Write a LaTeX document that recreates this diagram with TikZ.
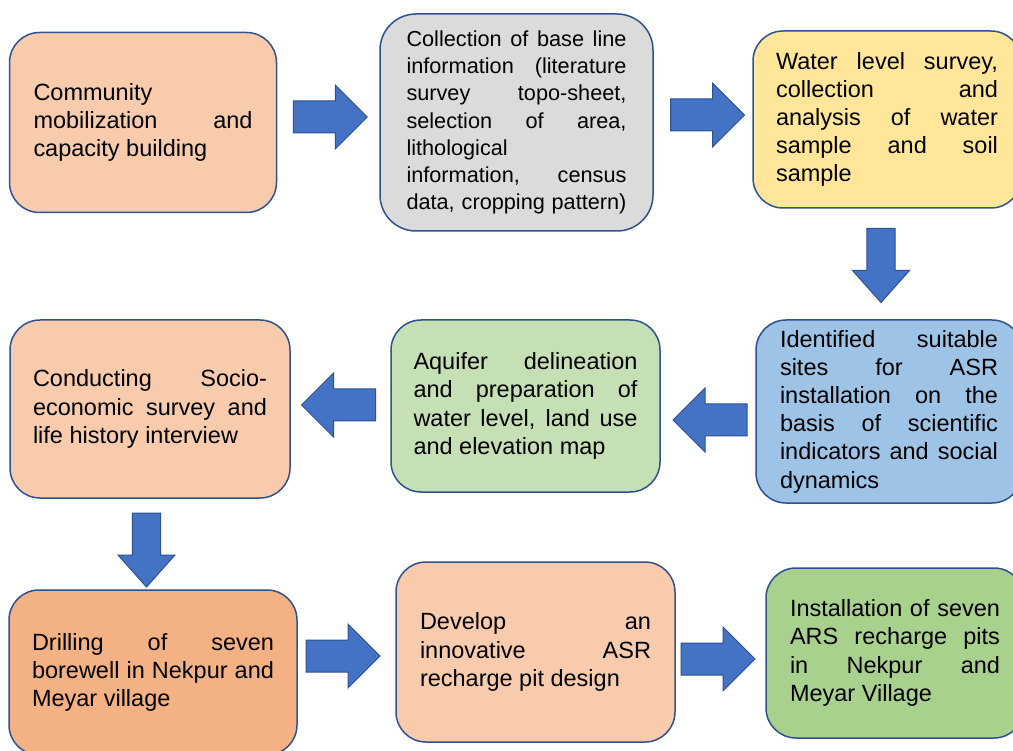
\documentclass[tikz,border=0pt]{standalone}
\usepackage{fontspec}
\setmainfont{Liberation Sans}
\usetikzlibrary{calc}
\definecolor{bordc}{RGB}{47,82,143}
\definecolor{arrc}{RGB}{68,114,196}
\definecolor{cpeach}{HTML}{F8CBAD}
\definecolor{cgray}{HTML}{DBDBDB}
\definecolor{cyellow}{HTML}{FFE699}
\definecolor{cblue}{HTML}{9DC3E6}
\definecolor{cgreen}{HTML}{C5E0B4}
\definecolor{corange}{HTML}{F4B183}
\definecolor{cgreenb}{HTML}{A9D18E}
\newcommand\jwidth{100pt}
\newcommand\J[1]{\leavevmode\hbox to\jwidth{\spaceskip=.278em plus 1fil\relax #1}}
\newcommand\Rl[1]{\leavevmode\hbox{\spaceskip=.278em\relax #1}}
\begin{document}
\begin{tikzpicture}[x=1pt,y=-1pt,
  box/.style={draw=bordc, line width=1.5pt, rounded corners=30pt, inner sep=0pt,
    align=left, font=\fontsize{23.5}{28.2}\selectfont},
  jw/.style={text width=#1, execute at begin node={\def\jwidth{#1}}},
  barrow/.pic={\filldraw[fill=arrc, draw=bordc, line width=1pt]
    (-37,-16) -- (5,-16) -- (5,-32) -- (37,0) -- (5,32) -- (5,16) -- (-37,16) -- cycle;}
]
\clip (0,0) rectangle (1013,751);
\fill[white] (0,0) rectangle (1013,751);

\node[box, fill=cpeach, minimum width=267pt, minimum height=180pt, jw=219pt] (b1) at (143,122.5)
  {Community\\ \J{mobilization and}\\ \Rl{capacity building}};
\node[box, fill=cgray, rounded corners=36pt, minimum width=273pt, minimum height=217pt, jw=220pt,
  font=\fontsize{21.7}{27.2}\selectfont] (b2) at (516.5,122.5)
  {\J{Collection of base line}\\ \J{information (literature}\\ \J{survey topo-sheet,}\\ \J{selection of area,}\\ lithological\\ \J{information, census}\\ \J{data, cropping pattern)}};
\node[box, fill=cyellow, minimum width=268pt, minimum height=177pt, jw=222pt] (b3) at (887,119.5)
  {\J{Water level survey,}\\ \J{collection and}\\ \J{analysis of water}\\ \J{sample and soil}\\ sample};
\node[box, fill=cblue, minimum width=266pt, minimum height=183pt, jw=218pt] (b4) at (889,411.5)
  {\J{Identified suitable}\\ \J{sites for ASR}\\ \J{installation on the}\\ \J{basis of scientific}\\ \J{indicators and social}\\ dynamics};
\node[box, fill=cgreen, minimum width=269pt, minimum height=172pt, jw=224pt] (b5) at (525.5,406)
  {\J{Aquifer delineation}\\ \J{and preparation of}\\ \J{water level, land use}\\ \Rl{and elevation map}};
\node[box, fill=cpeach, minimum width=280pt, minimum height=178pt, jw=234pt] (b6) at (150,409)
  {\J{Conducting Socio-}\\ \J{economic survey and}\\ \Rl{life history interview}};
\node[box, fill=corange, minimum width=288pt, minimum height=165pt, jw=242pt] (b7) at (153,672.5)
  {\J{Drilling of seven}\\ \J{borewell in Nekpur and}\\ \Rl{Meyar village}};
\node[box, fill=cpeach, minimum width=279pt, minimum height=180pt, jw=231pt] (b8) at (535.5,652)
  {\J{Develop an}\\ \J{innovative ASR}\\ \Rl{recharge pit design}};
\node[box, fill=cgreenb, minimum width=258pt, minimum height=170pt, jw=210pt] (b9) at (895,653)
  {\J{Installation of seven}\\ \J{ARS recharge pits}\\ \J{in Nekpur and}\\ \Rl{Meyar Village}};

\pic at ($(b1.east)!.5!(b2.west)+(2,-5.5)$) {barrow};
\pic at ($(b2.east)!.5!(b3.west)+(4.5,-6)$) {barrow};
\pic[rotate=-90, yscale=0.89] at ($(b3.south)!.5!(b4.north)+(-7,1.5)$) {barrow};
\pic[rotate=180] at ($(b4.west)!.5!(b5.east)+(2,11.25)$) {barrow};
\pic[rotate=180] at ($(b5.west)!.5!(b6.east)+(-2,-2.5)$) {barrow};
\pic[rotate=-90, yscale=0.89] at ($(b6.south)!.5!(b7.north)+(-5,6)$) {barrow};
\pic at ($(b7.east)!.5!(b8.west)+(-3.5,-6.25)$) {barrow};
\pic at ($(b8.east)!.5!(b9.west)+(-2.5,6.5)$) {barrow};
\end{tikzpicture}
\end{document}
